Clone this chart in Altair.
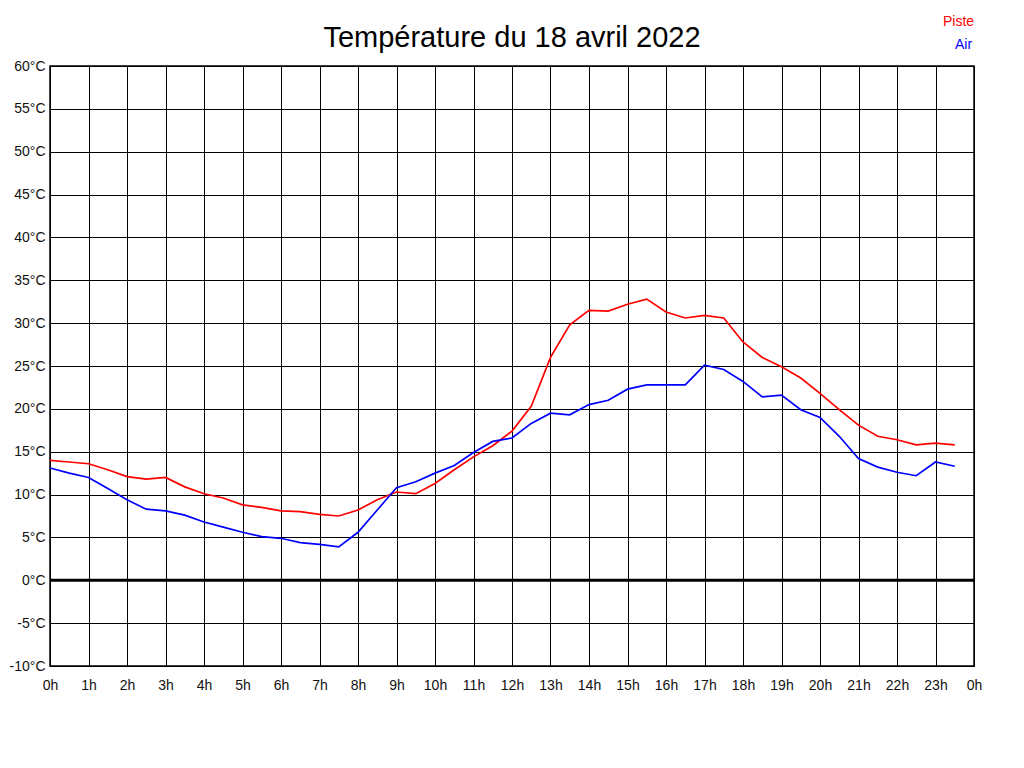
import altair as alt
import pandas as pd

hours = [i / 2 for i in range(48)]

piste = [14.0, 13.8, 13.6, 12.9, 12.1, 11.8, 12.0, 10.9, 10.1, 9.6,
         8.8, 8.5, 8.1, 8.0, 7.7, 7.5, 8.2, 9.4, 10.3, 10.1,
         11.3, 12.9, 14.4, 15.7, 17.4, 20.3, 26.0, 29.8, 31.5, 31.4,
         32.2, 32.8, 31.3, 30.6, 30.9, 30.6, 27.8, 26.0, 24.9, 23.6,
         21.8, 19.9, 18.1, 16.8, 16.4, 15.8, 16.0, 15.8]

air = [13.1, 12.5, 12.0, 10.7, 9.4, 8.3, 8.1, 7.6, 6.8, 6.2,
       5.6, 5.1, 4.9, 4.4, 4.2, 3.9, 5.6, 8.2, 10.8, 11.5,
       12.5, 13.4, 14.9, 16.2, 16.6, 18.3, 19.5, 19.3, 20.5, 21.0,
       22.3, 22.8, 22.8, 22.8, 25.1, 24.6, 23.2, 21.4, 21.6, 19.9,
       19.0, 16.8, 14.2, 13.2, 12.6, 12.2, 13.8, 13.3]

x_ticks = list(range(25))
y_ticks = list(range(-10, 61, 5))

df_p = pd.DataFrame({"h": hours, "t": piste, "serie": "Piste"})
df_a = pd.DataFrame({"h": hours, "t": air, "serie": "Air"})

x_enc = alt.X("h:Q", scale=alt.Scale(domain=[0, 24], nice=False),
              axis=alt.Axis(values=x_ticks, labelExpr="(datum.value % 24) + 'h'",
                            title=None, grid=True, ticks=False, tickSize=0,
                            labelPadding=12, domain=False, labelFlush=False))
y_enc = alt.Y("t:Q", scale=alt.Scale(domain=[-10, 60], nice=False),
              axis=alt.Axis(values=y_ticks, labelExpr="datum.value + '°C'",
                            title=None, grid=True, ticks=False, tickSize=0,
                            labelPadding=5, domain=False))


def legend(color, lx, ly):
    return alt.Legend(title=None, orient="none", legendX=lx, legendY=ly,
                      labelColor=color, labelFontSize=14, labelFont="Liberation Sans",
                      symbolSize=0, symbolStrokeWidth=0, symbolOpacity=0,
                      labelOffset=0, padding=0)


line_p = alt.Chart(df_p).mark_line(strokeWidth=1.7).encode(
    x=x_enc, y=y_enc,
    color=alt.Color("serie:N", scale=alt.Scale(domain=["Piste"], range=["#ff0000"]),
                    legend=legend("#ff0000", 879, -51)),
)
line_a = alt.Chart(df_a).mark_line(strokeWidth=1.7).encode(
    x=x_enc, y=y_enc,
    color=alt.Color("serie:N", scale=alt.Scale(domain=["Air"], range=["#0000ff"]),
                    legend=legend("#0000ff", 891, -28)),
)

zero = alt.Chart(pd.DataFrame({"z": [0]})).mark_rule(color="black", strokeWidth=3).encode(
    y=alt.Y("z:Q", scale=alt.Scale(domain=[-10, 60], nice=False))
)

chart = alt.layer(zero, line_p, line_a).resolve_scale(color="independent").properties(
    width=924, height=600,
    title=alt.TitleParams("Température du 18 avril 2022", fontSize=29,
                          font="Liberation Sans", fontWeight="normal",
                          anchor="middle", color="black", offset=-61,
                          frame="group", baseline="alphabetic"),
    autosize=alt.AutoSizeParams(type="none"),
    padding={"left": 42, "top": 58, "right": 40, "bottom": 60},
).configure(
    font="Liberation Sans",
).configure_axis(
    gridColor="black", gridOpacity=1, gridWidth=1,
    labelFontSize=14, labelColor="#111111", labelFont="Liberation Sans",
).configure_view(
    stroke="black", strokeWidth=1.5,
)

chart.save("out.html", embed_options={"renderer": "svg", "actions": False})
